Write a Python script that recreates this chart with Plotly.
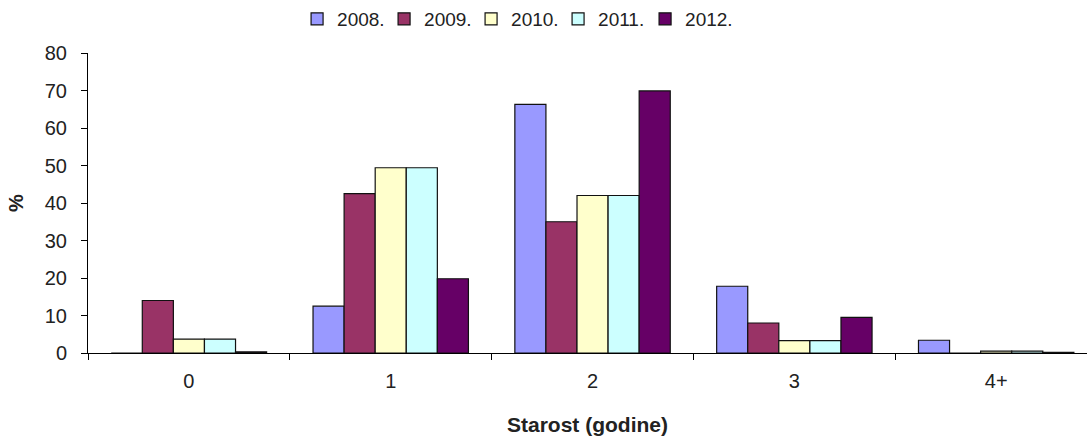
import plotly.graph_objects as go

categories = ["0", "1", "2", "3", "4+"]
years = ["2008.", "2009.", "2010.", "2011.", "2012."]
v2008 = [0, 12.5, 66.3, 17.8, 3.4]
v2009 = [14.0, 42.5, 35.0, 8.0, 0]
v2010 = [3.7, 49.4, 42.0, 3.3, 0.5]
v2011 = [3.7, 49.4, 42.0, 3.3, 0.5]
v2012 = [0.3, 19.8, 69.9, 9.5, 0.2]
colors = ["#9999FF", "#993366", "#FFFFCC", "#CCFFFF", "#660066"]

series = [v2008, v2009, v2010, v2011, v2012]

fig = go.Figure()
for name, vals, col in zip(years, series, colors):
    fig.add_trace(go.Bar(
        x=categories, y=vals, name=name,
        marker=dict(color=col, line=dict(color="#111111", width=1.2)),
    ))

font = "Liberation Sans, Arial, sans-serif"
fig.update_layout(
    width=1087, height=439,
    margin=dict(l=88, r=0, t=52, b=86),
    paper_bgcolor="white", plot_bgcolor="white",
    barmode="group", bargap=0.23, bargroupgap=0,
    font=dict(family=font, size=20, color="#222222"),
    legend=dict(orientation="h", x=0.427, xanchor="center", y=1.113, yanchor="middle",
                font=dict(size=19), traceorder="normal", itemwidth=30,
                entrywidth=42, entrywidthmode="pixels",
                tracegroupgap=0),
    xaxis=dict(
        type="category", range=[-0.5, 4.45],
        showline=True, linecolor="#000000", linewidth=1,
        ticks="outside", tickson="boundaries", ticklen=6, tickcolor="#000000",
        ticklabelstandoff=10,
        title=dict(text="<b>Starost (godine)</b>", font=dict(size=21), standoff=26),
        showgrid=False, zeroline=False,
    ),
    yaxis=dict(
        range=[0, 80], dtick=10,
        showline=True, linecolor="#000000", linewidth=1,
        ticks="outside", ticklen=6, tickcolor="#000000",
        ticklabelstandoff=10,
        title=dict(text="<b>%</b>", font=dict(size=20), standoff=15),
        showgrid=False, zeroline=False,
    ),
    showlegend=True,
)

fig.write_html("out.html")
